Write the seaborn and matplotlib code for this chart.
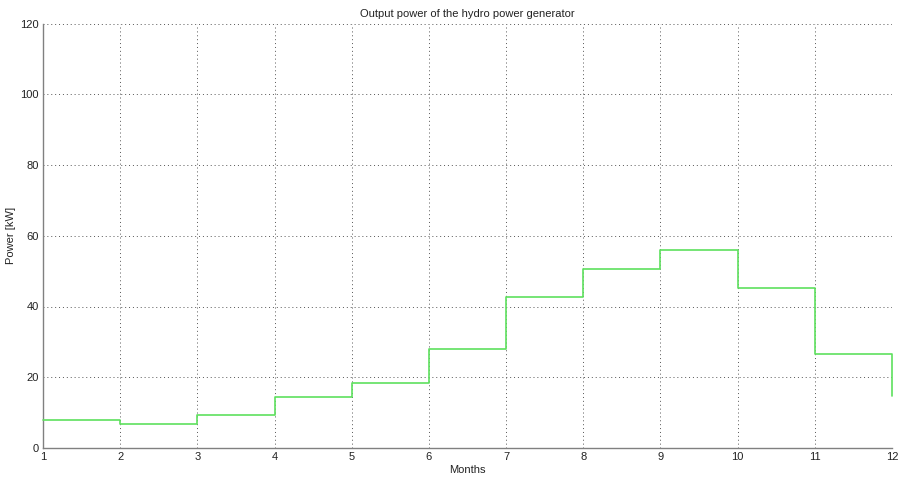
import matplotlib
matplotlib.use("Agg")
import matplotlib.pyplot as plt
import seaborn as sns
import pandas as pd

months = [1, 2, 3, 4, 5, 6, 7, 8, 9, 10, 11, 12]
power_kw = [8.0, 6.7, 9.45, 14.5, 18.5, 28.0, 42.6, 50.6, 56.1, 45.3, 26.6, 14.6]
x_ticks = [1, 2, 3, 4, 5, 6, 7, 8, 9, 10, 11, 12]
y_ticks = [0, 20, 40, 60, 80, 100, 120]

sns.set_style("white")
plt.rcParams['font.family'] = ['Liberation Sans', 'DejaVu Sans']

df = pd.DataFrame({"Months": months, "Power": power_kw})

fig = plt.figure(figsize=(9.04, 4.78), dpi=100)
ax = fig.add_axes([43 / 904, 30 / 478, 849 / 904, 424.5 / 478])

sns.lineplot(data=df, x="Months", y="Power", ax=ax, color="#5ee05e",
             linewidth=1.2, drawstyle="steps-post", clip_on=False, zorder=5)

ax.set_xlim(1, 12)
ax.set_ylim(0, 120)
ax.set_xticks(x_ticks)
ax.set_yticks(y_ticks)
ax.set_xticklabels([str(t) for t in x_ticks])
ax.set_yticklabels([str(t) for t in y_ticks])

ax.grid(True, linestyle=(0, (1, 3)), color="#555555", linewidth=0.7)
for side in ["top", "right"]:
    ax.spines[side].set_visible(False)
for side in ["left", "bottom"]:
    ax.spines[side].set_color("#808080")
    ax.spines[side].set_linewidth(1.0)

ax.tick_params(direction="in", length=8, width=0.8, color="#555555",
               labelsize=8, labelcolor="#222222", pad=3)

ax.set_xlabel("Months", fontsize=8, color="#222222", labelpad=2)
ax.set_ylabel("Power [kW]", fontsize=8, color="#222222", labelpad=3)
ax.set_title("Output power of the hydro power generator", fontsize=8,
             color="#222222", pad=5)

fig.savefig("out.png", dpi=100)
